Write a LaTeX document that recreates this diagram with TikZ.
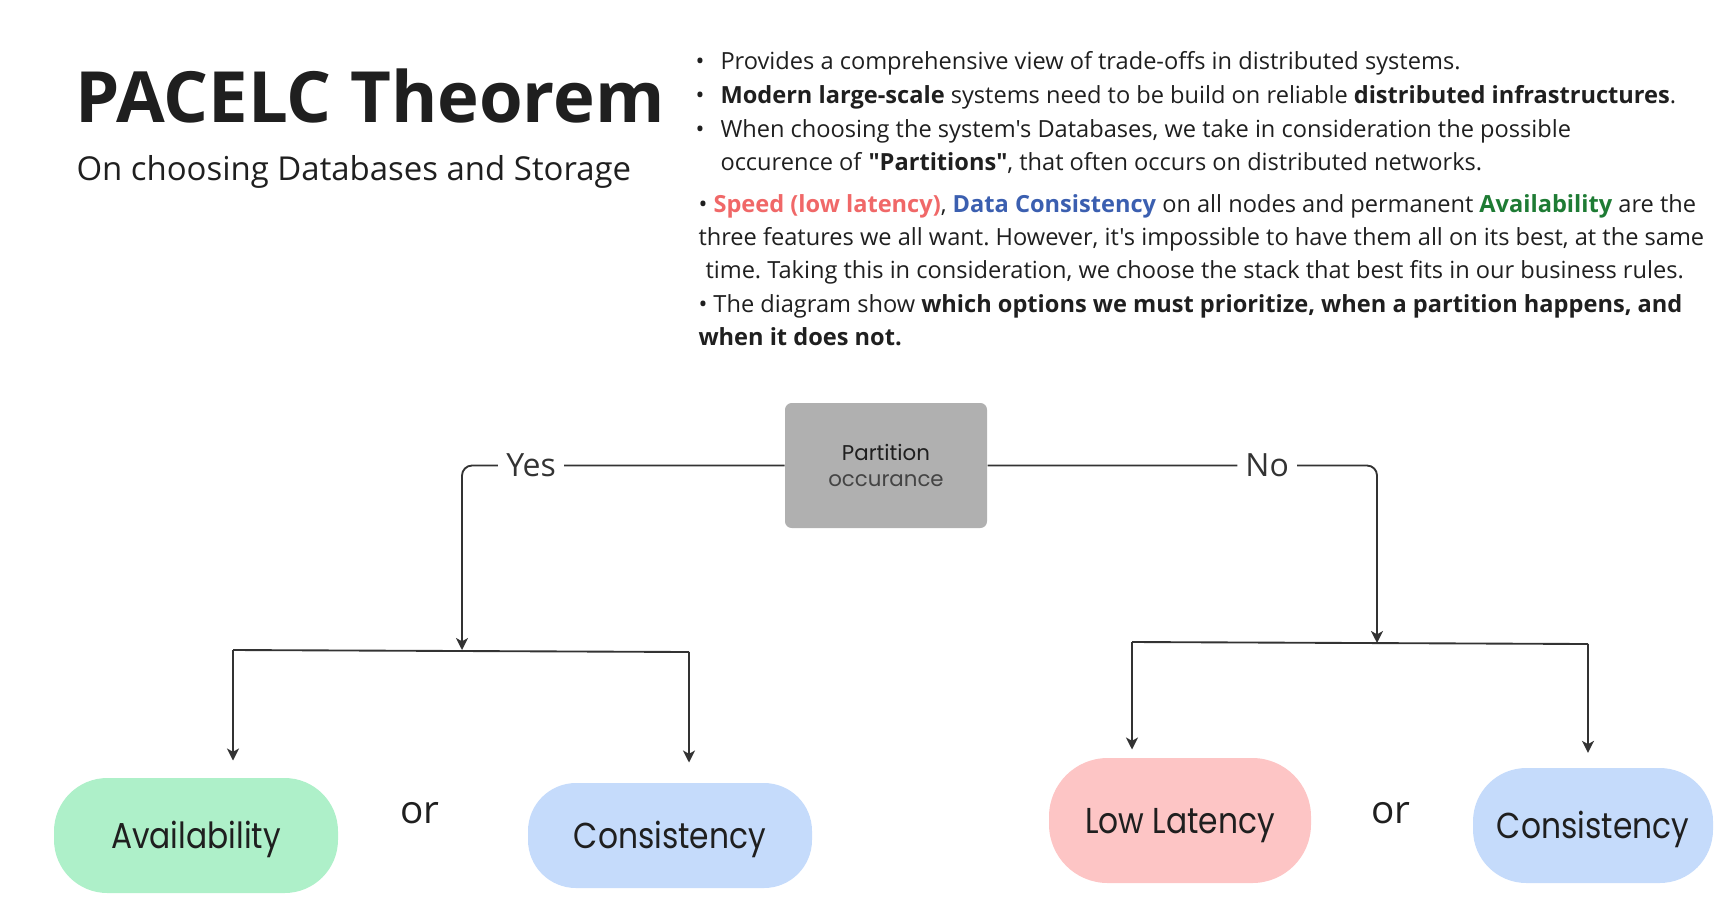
\documentclass[tikz,border=0pt]{standalone}
\usepackage{fontspec}
\setmainfont{Open Sans}[Ligatures=TeXOff]
\newfontfamily\popfont{Poppins}
\newfontfamily\popnarrow{Poppins}[FakeStretch=0.87]
\usetikzlibrary{arrows.meta}
\frenchspacing

\definecolor{inkdark}{RGB}{31,31,31}
\definecolor{linedark}{RGB}{51,51,51}
\definecolor{availgreen}{RGB}{174,240,201}
\definecolor{consblue}{RGB}{197,219,251}
\definecolor{latpink}{RGB}{253,197,197}
\definecolor{boxgray}{RGB}{176,176,176}

\tikzset{every picture/.style={line width=0.75pt}}
\tikzset{
  txtline/.style={anchor=base west,inner sep=0pt,text=inkdark,font=\fontsize{17.7}{20}\selectfont},
  pill/.style={inner sep=0pt,text height=19pt,text depth=0pt,text=inkdark,font=\popnarrow\fontsize{27}{32}\selectfont},
  decision/.style={fill=boxgray,rounded corners=5pt,minimum width=151.5pt,minimum height=93.75pt,align=center,text=inkdark,font=\popfont\fontsize{16}{19.5}\selectfont},
  conn/.style={draw=linedark,line width=1.4pt},
  arr/.style={conn,-{Stealth[length=9pt,width=9pt,inset=2.5pt]}},
  branchlbl/.style={fill=white,inner xsep=6pt,inner ysep=0pt,text=linedark,font=\fontsize{24}{28}\selectfont},
  ortxt/.style={anchor=base,inner sep=0pt,text=inkdark,font=\fontsize{29}{32}\selectfont},
}

\begin{document}
\begin{tikzpicture}[x=0.75pt,y=0.75pt,yscale=-1,xscale=1]
\useasboundingbox (0,0) rectangle (1720,908);

% title
\node [anchor=base west,inner sep=0pt,text=inkdark,font=\bfseries\fontsize{53}{60}\selectfont] (title) at (75,122) {PACELC Theorem};
\node [anchor=base west,inner sep=0pt,text=inkdark,font=\fontsize{24.7}{28}\selectfont] (subtitle) at (76,180) {On choosing Databases and Storage};

% notes
\node [txtline] (d1) at (695,69) {•};
\node [txtline] (d2) at (695,103) {•};
\node [txtline] (d3) at (695,137) {•};
\node [txtline] (p1) at (720,69) {Provides a comprehensive view of trade-offs in distributed systems.};
\node [txtline] (p2) at (720,103) {\textbf{Modern large-scale} systems need to be build on reliable \textbf{distributed infrastructures}.};
\node [txtline] (p3) at (720,137) {When choosing the system's Databases, we take in consideration the possible};
\node [txtline] (p4) at (720,170) {occurence of \textbf{"Partitions"}, that often occurs on distributed networks.};
\node [txtline] (p5) at (698,212) {• \textcolor[RGB]{240,104,104}{\textbf{Speed (low latency)}}, \textcolor[RGB]{59,95,176}{\textbf{Data Consistency}} on all nodes and permanent \textcolor[RGB]{30,123,52}{\textbf{Availability}} are the};
\node [txtline] (p6) at (698,245) {three features we all want. However, it's impossible to have them all on its best, at the same};
\node [txtline] (p7) at (705,278) {time. Taking this in consideration, we choose the stack that best fits in our business rules.};
\node [txtline] (p8) at (698,312) {• The diagram show \textbf{which options we must prioritize, when a partition happens, and}};
\node [txtline] (p9) at (698,345) {\textbf{when it does not.}};

% decision
\node [decision] (part) at (886,465.5) {Partition\\\textcolor[RGB]{68,68,68}{occurance}};

\node [pill,fill=availgreen,minimum width=213pt,minimum height=86.25pt,rounded corners=40pt] (avail) at (196,835.5) {Availability};
\node [pill,fill=consblue,minimum width=213pt,minimum height=78.75pt,rounded corners=36pt] (consL) at (670,835.5) {Consistency};
\node [pill,fill=latpink,minimum width=196.5pt,minimum height=93.75pt,rounded corners=44pt] (lowlat) at (1180,820.5) {Low Latency};
\node [pill,fill=consblue,minimum width=180pt,minimum height=86.25pt,rounded corners=40pt] (consR) at (1593,825.5) {Consistency};

\node [ortxt] (orL) at (420,823) {or};
\node [ortxt] (orR) at (1391,823) {or};

\coordinate (ytap) at (462,650);
\coordinate (ybusL) at (233,650);
\coordinate (ybusR) at (689,652);
\coordinate (ntap) at (1377,643);
\coordinate (nbusL) at (1132,642);
\coordinate (nbusR) at (1588,644);

% yes branch
\draw [arr,rounded corners=7.5pt] (part.west) -- node[branchlbl,pos=0.786] {Yes} (ytap |- part.west) -- (ytap);
\draw [conn] (ybusL) -- (ybusR);
\draw [arr,shorten >=12.75pt] (ybusL) -- (ybusL |- avail.north);
\draw [arr,shorten >=15pt] (ybusR) -- (ybusR |- consL.north);

% no branch
\draw [arr,rounded corners=7.5pt] (part.east) -- node[branchlbl,pos=0.718] {No} (ntap |- part.east) -- (ntap);
\draw [conn] (nbusL) -- (nbusR);
\draw [arr,shorten >=6pt] (nbusL) -- (nbusL |- lowlat.north);
\draw [arr,shorten >=11pt] (nbusR) -- (nbusR |- consR.north);

\end{tikzpicture}
\end{document}
